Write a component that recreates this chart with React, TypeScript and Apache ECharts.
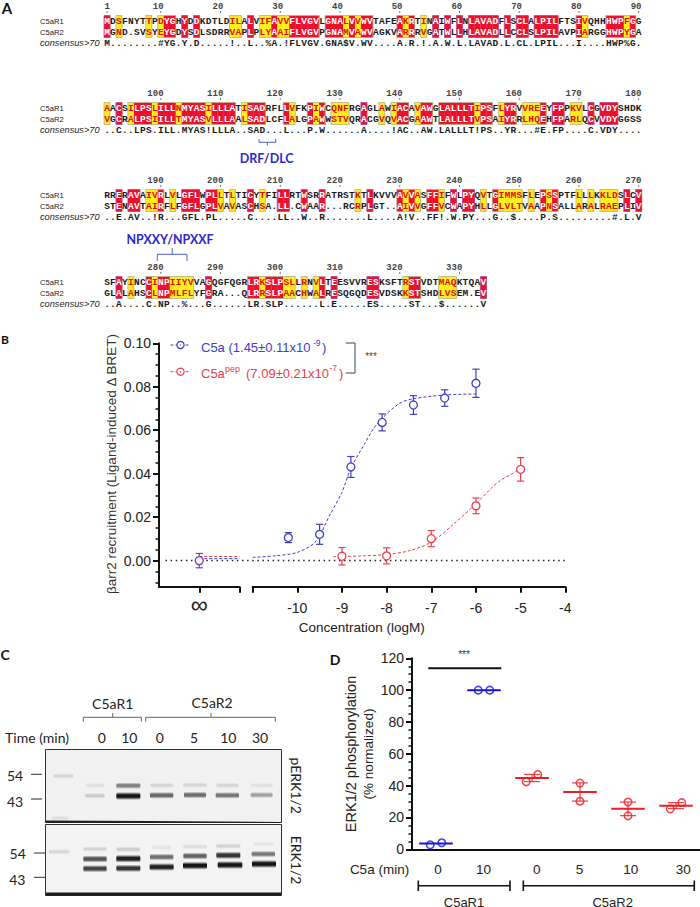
import React, { useEffect, useRef } from "react";
import * as echarts from "echarts";

// ---------- Panel A: alignment ----------
const r1Rows = [
  "MDSFNYTTPDYGHYDDKDTLDILALVIFAVVFLVGVLGNALVVWVTAFEAKRTINAIWFLNLAVADFLSCLALPILFTSIVQHHHWPFGG",
  "AACSILPSLILLNMYASILLLATISADRFLLVFKPIWCQNFRGAGLAWIACAVAWGLALLLTIPSFLYRVVREEYFPPKVLCGVDYSHDK",
  "RRERAVAIVRLVLGFLWPLLTLTICYTFILLRTWSRRATRSTKTLKVVVAVVASFFIFWLPYQVTGIMMSFLEPSSPTFLLLKKLDSLCV",
  "SFAYINCCINPIIYVVAGQGFQGRLRKSLPSLLRNVLTEESVVRESKSFTRSTVDTMAQKTQAV",
];
const r2Rows = [
  "MGND.SVSYEYGDYSDLSDRRVAPLPLYAAIFLVGVPGNAMVAWVAGKVARRRVGATWLLHLAVADLLCCLSLPILAVPIARGGHWPYGA",
  "VGCRALPSIILLTMYASVLLLAALSADLCFLALGPAWWSTVQRACGVQVACGAAWTLALLLTVPSAIYRRLHQEHFPARLQCVVDYGGSS",
  "STENAVTAIRFLFGFLGPLVAVASCHSA.LL.CWAAR...RCRPLGT..AIVVGFFVCWAPYHLLGLVLTVAAPNSALLARALRAEPLIV",
  "GLALAHSCLNPMLFLYFGRA...QLRRSLPAACHWALRESQGQDESVDSKKSTSHDLVSEM.EV",
];
const consensusRows = [
  "M........#YG.Y.D.....!..L..%A.!FLVGV.GNA$V.WV....A.R.!.A.W.L.LAVAD.L.CL.LPIL...I....HWP%G.",
  "..C..LPS.ILL.MYAS!LLLA..SAD...L...P.W......A....!AC..AW.LALLLT!PS..YR...#E.FP....C.VDY....",
  "..E.AV..!R...GFL.PL.....C....LL..W..R.......L....A!V..FF!.W.PY...G..$....P.S.........#.L.V",
  "..A....C.NP..%...G......LR.SLP......L.E.....ES.....ST...$......V",
];
const similarColumns = [
  [3, 8, 10, 22, 23, 27, 28, 30, 31, 41, 43, 51, 54, 81, 88],
  [1, 5, 9, 13, 18, 24, 32, 36, 39, 40, 41, 47, 49, 53, 63, 67, 71, 72, 73, 79, 80],
  [8, 9, 12, 20, 22, 27, 43, 51, 53, 57, 64, 67, 68, 69, 70, 72, 75, 80, 82, 84, 85, 86],
  [5, 9, 12, 13, 14, 15, 27, 31, 32, 34, 36, 51, 57, 58, 59],
];
const numberRows = [
  [1, 10, 20, 30, 40, 50, 60, 70, 80, 90],
  [100, 110, 120, 130, 140, 150, 160, 170, 180],
  [190, 200, 210, 220, 230, 240, 250, 260, 270],
  [280, 290, 300, 310, 320, 330],
];
const blockRowTop = [21, 108, 195, 282];

// ---------- Panel B: dose response ----------
const c5aPoints = [[-10.2, 0.0106], [-9.5, 0.0121], [-8.8, 0.0431], [-8.1, 0.0636], [-7.4, 0.0716], [-6.7, 0.0748], [-6, 0.0816]];
const c5aErrors = [0.0023, 0.0046, 0.0048, 0.0039, 0.0043, 0.0038, 0.0065];
const c5aCurve = [[-11, 0.0015], [-10.5, 0.0022], [-10, 0.0038], [-9.6, 0.0085], [-9.27, 0.021], [-9, 0.0315], [-8.8, 0.0425], [-8.5, 0.0535], [-8.3, 0.0605], [-8.1, 0.0655], [-7.7, 0.0725], [-7.4, 0.0745], [-6.7, 0.0762], [-6, 0.0767]];
const pepPoints = [[-9, 0.002], [-8, 0.0022], [-7, 0.0101], [-6, 0.0252], [-5, 0.042]];
const pepErrors = [0.004, 0.0037, 0.0037, 0.0036, 0.0054];
const pepCurve = [[-9.2, 0.0018], [-9, 0.0019], [-8.5, 0.0022], [-8, 0.0028], [-7.5, 0.0045], [-7, 0.0085], [-6.5, 0.0168], [-6, 0.0262], [-5.5, 0.0362], [-5, 0.042]];
const zeroDosePoint = [[1, 0]];
const zeroDoseError = 0.0033;
const zeroDoseBlue = [[1, 0.0009], [2, 0.0009]];
const zeroDoseRed = [[1, 0.0019], [2, 0.0019]];
const bMajorTicks = [0, 0.02, 0.04, 0.06, 0.08, 0.1];
const bMinorTicks = [-0.01, -0.005, 0.005, 0.01, 0.015, 0.025, 0.03, 0.035, 0.045, 0.05, 0.055, 0.065, 0.07, 0.075, 0.085, 0.09, 0.095];
const bLogTicks = [-11, -10, -9, -8, -7, -6, -5, -4];
const bLogLabels = [-10, -9, -8, -7, -6, -5, -4];

// ---------- Panel C: blot (x, y in blot units, width, darkness) ----------
const upperBands = [
  [190, 408, 60, 0.12], [285, 436, 55, 0.07], [285, 467, 58, 0.17], [385, 437, 72, 0.5], [385, 468, 72, 1],
  [485, 436, 68, 0.12], [485, 466, 70, 0.62], [585, 435, 70, 0.12], [585, 465, 66, 0.6], [682, 436, 66, 0.12],
  [682, 466, 70, 0.55], [785, 436, 66, 0.07], [785, 465, 66, 0.36], [180, 535, 50, 0.08],
];
const lowerBands = [
  [178, 635, 62, 0.12], [285, 627, 70, 0.14], [285, 657, 70, 0.72], [285, 686, 70, 0.78],
  [385, 628, 70, 0.17], [385, 656, 72, 0.95], [385, 685, 72, 0.85], [485, 622, 55, 0.07], [485, 651, 70, 0.6],
  [485, 681, 72, 0.95], [585, 620, 70, 0.09], [585, 648, 70, 0.66], [585, 677, 72, 1], [685, 618, 72, 0.14],
  [685, 646, 72, 0.85], [690, 675, 74, 1], [790, 612, 60, 0.06], [790, 642, 70, 0.55], [792, 672, 72, 1],
];

// ---------- Panel D: ERK phosphorylation ----------
const dTimeLabels = ["0", "10", "0", "5", "10", "30"];
const dLabelPositions = [0.04, 0.99, 2.1, 2.99, 4.06, 5.15];
const dBlueDots = [[-0.12, 2.8], [0.12, 4.1], [0.88, 100], [1.12, 100]];
const dRedDots = [[1.88, 42.4], [2.12, 47], [3, 41.6], [3, 30.2], [4, 29.7], [4, 21], [4.88, 25.4], [5.12, 29.3]];
const dBlueMeans = [[0, 3.7], [1, 100]];
const dRedMeans = [[2, 44.8], [3, 36], [4, 25.4], [5, 27.4]];
const dRedErrors = [2.3, 5.7, 4.3, 1.9];
const dMajorTicks = [0, 20, 40, 60, 80, 100, 120];
const dMinorTicks = [5, 10, 15, 25, 30, 35, 45, 50, 55, 65, 70, 75, 85, 90, 95, 105, 110, 115];

const SANS = '"Liberation Sans", Arial, sans-serif';
const LATO = "Lato, sans-serif";
const MONO = '"Liberation Mono", monospace';
const BLUE = "#3d40c6";
const RED = "#e8404c";
const PURPLE = "#7d3fb5";
const DBLUE = "#1515d8";
const DRED = "#ee1c25";
const BRACKET = "#4d63c4";

function residueKind(block: number, column: number) {
  const c = consensusRows[block][column - 1];
  if (similarColumns[block].includes(column)) return "Y";
  if (c && /[A-Z]/.test(c)) return "R";
  return ".";
}

function buildCells() {
  const cells: any[] = [];
  const runs: any[] = [];
  const letters: any[] = [];
  r1Rows.forEach((row, b) => {
    let start = 0;
    let hasY = false;
    for (let col = 1; col <= row.length + 1; col++) {
      const kind = col <= row.length ? residueKind(b, col) : ".";
      if (kind !== ".") {
        cells.push([col, blockRowTop[b], kind === "R" ? 1 : 0]);
        if (!start) start = col;
        if (kind === "Y") hasY = true;
      } else if (start) {
        runs.push([start, col - 1, blockRowTop[b], hasY ? 1 : 0]);
        start = 0;
        hasY = false;
      }
      if (col <= row.length) {
        const k = kind === "R" ? "#fff" : kind === "Y" ? "#e01010" : "#1a1a1a";
        letters.push([col, blockRowTop[b], row[col - 1], k]);
        letters.push([col, blockRowTop[b] + 11, r2Rows[b][col - 1], k]);
        letters.push([col, blockRowTop[b] + 22, consensusRows[b][col - 1], "#1a1a1a"]);
      }
    }
  });
  return { cells, runs, letters };
}

function errorBars(color: string, cap: number, lw: number) {
  return (params: any, api: any) => {
    const x = api.value(0);
    const lo = api.coord([x, api.value(1)]);
    const hi = api.coord([x, api.value(2)]);
    const st = { stroke: color, lineWidth: lw };
    return {
      type: "group",
      children: [
        { type: "line", shape: { x1: lo[0], y1: lo[1], x2: hi[0], y2: hi[1] }, style: st },
        { type: "line", shape: { x1: lo[0] - cap, y1: lo[1], x2: lo[0] + cap, y2: lo[1] }, style: st },
        { type: "line", shape: { x1: hi[0] - cap, y1: hi[1], x2: hi[0] + cap, y2: hi[1] }, style: st },
      ],
    };
  };
}

function meanLines(color: string, halfUnits: number) {
  return (params: any, api: any) => {
    const a = api.coord([api.value(0) - halfUnits, api.value(1)]);
    const b = api.coord([api.value(0) + halfUnits, api.value(1)]);
    return { type: "line", shape: { x1: a[0], y1: a[1], x2: b[0], y2: b[1] }, style: { stroke: color, lineWidth: 2 } };
  };
}

function bandRender(params: any, api: any) {
  const c = api.coord([api.value(0), api.value(1)]);
  const w = api.size([api.value(2), 0])[0];
  const dark = api.value(3);
  const h = 5 + dark * 3;
  const a = Math.min(1, dark * 0.95);
  return {
    type: "rect",
    shape: { x: c[0] - w / 2, y: c[1] - h / 2, width: w, height: h, r: 2 },
    style: {
      fill: {
        type: "linear", x: 0, y: 0, x2: 0, y2: 1,
        colorStops: [
          { offset: 0, color: "rgba(10,10,10,0)" },
          { offset: 0.35, color: `rgba(10,10,10,${a})` },
          { offset: 0.65, color: `rgba(10,10,10,${a})` },
          { offset: 1, color: "rgba(10,10,10,0)" },
        ],
      },
    },
  };
}

function t(text: string, x: number, y: number, opts: any = {}) {
  return {
    type: "text",
    x,
    y,
    rotation: opts.rotation || 0,
    z: 20,
    silent: true,
    style: {
      text,
      fill: opts.fill || "#222",
      font: opts.font || `13px ${SANS}`,
      align: opts.align || "center",
      verticalAlign: "middle",
    },
  };
}

function poly(points: number[][], stroke: string, lineWidth = 1, extra: any = {}) {
  return { type: "polyline", z: 20, silent: true, shape: { points }, style: { stroke, lineWidth, fill: "none", ...extra } };
}

function buildOption() {
  const { cells, runs, letters } = buildCells();
  const numbers: any[] = [];
  numberRows.forEach((list, b) =>
    list.forEach((n, i) => {
      const col = n === 1 ? 1 : b === 0 ? n : (i + 1) * 10;
      numbers.push([col, blockRowTop[b] - 14, n]);
    })
  );

  const hidden = { type: "value", show: false };
  const bBase = { min: -0.012, max: 0.1 };

  const graphicEls: any[] = [
    // panel letters
    t("A", 7, 8, { font: `bold 15px ${LATO}`, fill: "#111" }),
    t("B", 5, 339, { font: `bold 12px ${LATO}`, fill: "#111" }),
    t("C", 5, 654, { font: `bold 14px ${LATO}`, fill: "#111" }),
    t("D", 335, 659, { font: `bold 14px ${LATO}`, fill: "#111" }),
    // alignment row labels
    ...blockRowTop.flatMap((y) => [
      t("C5aR1", 40, y, { align: "left", font: `7.6px ${SANS}` }),
      t("C5aR2", 40, y + 11, { align: "left", font: `7.6px ${SANS}` }),
      t("consensus>70", 40, y + 22, { align: "left", font: `italic 9.2px ${SANS}` }),
    ]),
    t("DRF/DLC", 266.7, 158.5, { font: `bold 12.5px ${LATO}`, fill: "#2a2ad0" }),
    poly([[259, 139], [259, 142.3], [275.7, 142.3], [275.7, 139]], BRACKET),
    poly([[267.3, 142.3], [267.3, 145.5]], BRACKET),
    t("NPXXY/NPXXF", 170, 239, { font: `bold 12.4px ${LATO}`, fill: "#2a2ad0" }),
    poly([[157.3, 261], [157.3, 254.3], [187, 254.3], [187, 261]], BRACKET),
    poly([[172.2, 254.3], [172.2, 248]], BRACKET),

    // panel B texts
    t("βarr2 recruitment (Ligand-induced Δ BRET)", 111, 464, { rotation: Math.PI / 2, font: `13.5px ${SANS}`, fill: "#333" }),
    t("Concentration (logM)", 361.7, 627, { font: `13.5px ${SANS}`, fill: "#222" }),
    poly([[170.5, 345], [190.5, 345]], BLUE, 1, { lineDash: [3, 2] }),
    { type: "circle", z: 20, shape: { cx: 180.5, cy: 345, r: 3.6 }, style: { stroke: BLUE, fill: "#fff", lineWidth: 1.2 } },
    { type: "circle", z: 21, shape: { cx: 180.5, cy: 345, r: 0.6 }, style: { fill: BLUE } },
    poly([[170.5, 371.7], [190.5, 371.7]], RED, 1, { lineDash: [3, 2] }),
    { type: "circle", z: 20, shape: { cx: 180.5, cy: 371.7, r: 3.6 }, style: { stroke: RED, fill: "#fff", lineWidth: 1.2 } },
    { type: "circle", z: 21, shape: { cx: 180.5, cy: 371.7, r: 0.6 }, style: { fill: RED } },
    t("C5a (1.45±0.11x10", 201, 347, { align: "left", font: `13px ${SANS}`, fill: BLUE }),
    t("-9", 313, 343, { align: "left", font: `8.5px ${SANS}`, fill: BLUE }),
    t(")", 322, 347, { align: "left", font: `13px ${SANS}`, fill: BLUE }),
    t("C5a", 201, 373, { align: "left", font: `13px ${SANS}`, fill: RED }),
    t("pep", 225, 369, { align: "left", font: `9px ${SANS}`, fill: RED }),
    t("(7.09±0.21x10", 246, 373, { align: "left", font: `13px ${SANS}`, fill: RED }),
    t("-7", 329.5, 368, { align: "left", font: `8.5px ${SANS}`, fill: RED }),
    t(")", 339, 373, { align: "left", font: `13px ${SANS}`, fill: RED }),
    poly([[345.7, 343], [355, 343], [355, 373], [345.7, 373]], "#444", 1),
    t("***", 371, 356, { font: `10px ${SANS}`, fill: "#444" }),

    // panel C frame
    { type: "rect", z: 1, shape: { x: 45.5, y: 749.5, width: 236, height: 73 }, style: { fill: "#f1f1f1", stroke: "#333", lineWidth: 1 } },
    { type: "rect", z: 1, shape: { x: 45.5, y: 824.5, width: 236, height: 71 }, style: { fill: "#f3f3f3", stroke: "#333", lineWidth: 1 } },
    { type: "polygon", z: 3, shape: { points: [[46, 820.5], [150, 821], [281, 822], [281, 823], [46, 823]] }, style: { fill: "#222" } },
    { type: "rect", z: 3, shape: { x: 46, y: 892.5, width: 235, height: 3.2 }, style: { fill: "#1d1d1d" } },
    t("C5aR1", 112.7, 703, { font: `14px ${LATO}`, fill: "#222" }),
    t("C5aR2", 212, 702, { font: `14px ${LATO}`, fill: "#222" }),
    poly([[83.3, 721.7], [83.3, 717.3], [141.3, 717.3], [141.3, 721.7]], "#666"),
    poly([[112.7, 717.3], [112.7, 713]], "#666"),
    poly([[145.7, 721.7], [145.7, 717.3], [275.3, 717.3], [275.3, 721.7]], "#666"),
    poly([[211, 717.3], [211, 713]], "#666"),
    t("Time (min)", 37, 737, { font: `14px ${LATO}`, fill: "#222" }),
    t("0", 101.7, 737, { font: `14px ${LATO}` }),
    t("10", 129.3, 737, { font: `14px ${LATO}` }),
    t("0", 159.7, 737, { font: `14px ${LATO}` }),
    t("5", 194, 737, { font: `14px ${LATO}` }),
    t("10", 228.3, 737, { font: `14px ${LATO}` }),
    t("30", 260, 737, { font: `14px ${LATO}` }),
    t("54", 15, 775, { font: `14px ${LATO}` }),
    t("43", 15, 801, { font: `14px ${LATO}` }),
    t("54", 17.7, 853, { font: `14px ${LATO}` }),
    t("43", 17.3, 879, { font: `14px ${LATO}` }),
    poly([[31, 774.3], [42, 774.3]], "#333"),
    poly([[31, 799], [42, 799]], "#777", 1.6),
    poly([[34, 853], [45, 853]], "#333"),
    poly([[34, 877.3], [45, 877.3]], "#333"),
    t("pERK1/2", 296, 785.7, { rotation: -Math.PI / 2, font: `14px ${LATO}` }),
    t("ERK1/2", 296, 860, { rotation: -Math.PI / 2, font: `14px ${LATO}` }),

    // panel D texts
    t("ERK1/2 phosphorylation", 351, 754, { rotation: Math.PI / 2, font: `14.5px ${SANS}`, fill: "#222" }),
    t("(% normalized)", 368, 754, { rotation: Math.PI / 2, font: `13.5px ${SANS}`, fill: "#222" }),
    t("C5a (min)", 379.5, 869, { font: `13.5px ${SANS}` }),
    t("***", 464, 654.5, { font: `10px ${SANS}`, fill: "#333" }),
    poly([[418.3, 885.7], [510, 885.7]], "#111", 1.6),
    poly([[418.3, 880.5], [418.3, 891]], "#111", 1.6),
    poly([[510, 880.5], [510, 891]], "#111", 1.6),
    poly([[523.3, 885.7], [694.3, 885.7]], "#111", 1.6),
    poly([[523.3, 880.5], [523.3, 891]], "#111", 1.6),
    poly([[694.3, 880.5], [694.3, 891]], "#111", 1.6),
    t("C5aR1", 464, 902, { font: `13px ${SANS}` }),
    t("C5aR2", 612.7, 902, { font: `13px ${SANS}` }),
  ];

  const grid = [
    { left: 104.0, top: 0, width: 537.7, height: 320 },
    { left: 159, top: 343.3, width: 80.5, height: 243.4 },
    { left: 252.6, top: 343.3, width: 312.7, height: 243.4 },
    { left: 159, top: 343.3, width: 406.3, height: 243.4 },
    { left: 45.33, top: 749.33, width: 236.33, height: 146.33 },
    { left: 412, top: 658.3, width: 288, height: 191 },
  ];

  const axisLine = { show: true, onZero: false, lineStyle: { color: "#111", width: 2 } };
  const xAxis: any[] = [
    { ...hidden, gridIndex: 0, min: 0.5, max: 90.5 },
    {
      type: "value", gridIndex: 1, min: 0, max: 2, axisLine, splitLine: { show: false },
      axisTick: { show: true, length: 6, customValues: [1, 2], lineStyle: { color: "#111", width: 2 } },
      axisLabel: { customValues: [1], formatter: () => "∞", margin: 6, fontSize: 24, color: "#222", fontFamily: SANS },
    },
    {
      type: "value", gridIndex: 2, min: -11, max: -4, axisLine, splitLine: { show: false },
      axisTick: { show: true, length: 6, customValues: bLogTicks, lineStyle: { color: "#111", width: 2 } },
      axisLabel: { customValues: bLogLabels, margin: 14, fontSize: 14, color: "#222", fontFamily: SANS, formatter: (v: number) => String(v) },
    },
    { ...hidden, gridIndex: 3, min: 0, max: 1 },
    { ...hidden, gridIndex: 4, min: 136, max: 845 },
    {
      type: "value", gridIndex: 5, min: -0.5, max: 5.5, axisLine,
      splitLine: { show: false }, axisTick: { show: false },
      axisLabel: {
        customValues: dLabelPositions, margin: 13, fontSize: 13.5, color: "#222", fontFamily: SANS,
        formatter: (v: number) => dTimeLabels[dLabelPositions.indexOf(v)],
      },
    },
  ];
  const yAxis: any[] = [
    { ...hidden, gridIndex: 0, min: 0, max: 320, inverse: true },
    {
      type: "value", gridIndex: 1, ...bBase, position: "left", axisLine, splitLine: { show: false },
      axisTick: { show: true, length: 6, customValues: bMajorTicks, lineStyle: { color: "#111", width: 2 } },
      axisLabel: { customValues: bMajorTicks, margin: 8, fontSize: 14, color: "#222", fontFamily: SANS, formatter: (v: number) => v.toFixed(2) },
    },
    {
      type: "value", gridIndex: 1, ...bBase, position: "left", axisLine: { show: false, onZero: false }, splitLine: { show: false },
      axisTick: { show: true, length: 3.5, customValues: bMinorTicks, lineStyle: { color: "#111", width: 1.5 } },
      axisLabel: { show: false },
    },
    { ...hidden, gridIndex: 2, ...bBase },
    { ...hidden, gridIndex: 3, ...bBase },
    { ...hidden, gridIndex: 4, min: 328, max: 767, inverse: true },
    {
      type: "value", gridIndex: 5, min: 0, max: 120, position: "left", axisLine, splitLine: { show: false },
      axisTick: { show: true, length: 6, customValues: dMajorTicks, lineStyle: { color: "#111", width: 2 } },
      axisLabel: { customValues: dMajorTicks, margin: 8, fontSize: 14, color: "#222", fontFamily: SANS, formatter: (v: number) => String(v) },
    },
    {
      type: "value", gridIndex: 5, min: 0, max: 120, position: "left", axisLine: { show: false, onZero: false }, splitLine: { show: false },
      axisTick: { show: true, length: 3.5, customValues: dMinorTicks, lineStyle: { color: "#111", width: 1.5 } },
      axisLabel: { show: false },
    },
  ];

  const dashed = (color: string) => ({ color, width: 1, type: [3, 2] as any });
  const markerStyle = (color: string) => ({ color: "#fff", borderColor: color, borderWidth: 1.3, opacity: 1 });
  const series: any[] = [
    // alignment
    {
      type: "custom", xAxisIndex: 0, yAxisIndex: 0, silent: true, z: 2, data: cells,
      renderItem: (p: any, api: any) => {
        const a = api.coord([api.value(0) - 0.5, api.value(1) - 5.5]);
        const s = api.size([1, 22]);
        return { type: "rect", shape: { x: a[0], y: a[1], width: s[0] + 0.3, height: s[1] }, style: { fill: api.value(2) ? "#ee0f2c" : "#ffee1a" } };
      },
    },
    {
      type: "custom", xAxisIndex: 0, yAxisIndex: 0, silent: true, z: 3, data: runs,
      renderItem: (p: any, api: any) => {
        const a = api.coord([api.value(0) - 0.5, api.value(2) - 5.5]);
        const b = api.coord([api.value(1) + 0.5, api.value(2) + 16.5]);
        return {
          type: "rect",
          shape: { x: a[0], y: a[1], width: b[0] - a[0], height: b[1] - a[1] },
          style: { fill: "none", stroke: api.value(3) ? "#b8b088" : "#b04a90", lineWidth: 0.8 },
        };
      },
    },
    {
      type: "custom", xAxisIndex: 0, yAxisIndex: 0, silent: true, z: 4, data: letters,
      renderItem: (p: any, api: any) => {
        const c = api.coord([api.value(0), api.value(1)]);
        const d = letters[p.dataIndex];
        return {
          type: "text", x: c[0], y: c[1],
          style: { text: d[2], fill: d[3], font: `bold 9.5px ${MONO}`, align: "center", verticalAlign: "middle" },
        };
      },
    },
    {
      type: "custom", xAxisIndex: 0, yAxisIndex: 0, silent: true, z: 4, data: numbers,
      renderItem: (p: any, api: any) => {
        const c = api.coord([api.value(0), api.value(1)]);
        return {
          type: "group",
          children: [
            { type: "text", x: c[0] + 2.8, y: c[1], style: { text: String(api.value(2)), fill: "#444", font: `bold 9px ${MONO}`, align: "right", verticalAlign: "middle" } },
            { type: "line", shape: { x1: c[0], y1: c[1] + 4, x2: c[0], y2: c[1] + 6 }, style: { stroke: "#555", lineWidth: 0.8 } },
          ],
        };
      },
    },

    // panel B
    {
      type: "line", xAxisIndex: 3, yAxisIndex: 4, data: [[0.016, 0], [1, 0]], showSymbol: false, silent: true, z: 2,
      lineStyle: { color: "#222", width: 1.5, type: [1.5, 3.6] },
    },
    { type: "line", xAxisIndex: 1, yAxisIndex: 1, data: zeroDoseBlue, showSymbol: false, silent: true, lineStyle: dashed(BLUE), z: 3 },
    { type: "line", xAxisIndex: 1, yAxisIndex: 1, data: zeroDoseRed, showSymbol: false, silent: true, lineStyle: dashed(RED), z: 3 },
    { type: "line", xAxisIndex: 2, yAxisIndex: 3, data: c5aCurve, smooth: 0.3, showSymbol: false, silent: true, lineStyle: dashed(BLUE), z: 3 },
    { type: "line", xAxisIndex: 2, yAxisIndex: 3, data: pepCurve, smooth: 0.3, showSymbol: false, silent: true, lineStyle: dashed(RED), z: 3 },
    {
      type: "custom", xAxisIndex: 2, yAxisIndex: 3, silent: true, z: 4, renderItem: errorBars(BLUE, 3.6, 1.2),
      data: c5aPoints.map((p, i) => [p[0], p[1] - c5aErrors[i], p[1] + c5aErrors[i]]),
    },
    {
      type: "custom", xAxisIndex: 2, yAxisIndex: 3, silent: true, z: 4, renderItem: errorBars(RED, 3.6, 1.2),
      data: pepPoints.map((p, i) => [p[0], p[1] - pepErrors[i], p[1] + pepErrors[i]]),
    },
    {
      type: "custom", xAxisIndex: 1, yAxisIndex: 1, silent: true, z: 4, renderItem: errorBars(PURPLE, 3.6, 1.2),
      data: zeroDosePoint.map((p) => [p[0], p[1] - zeroDoseError, p[1] + zeroDoseError]),
    },
    { type: "scatter", xAxisIndex: 2, yAxisIndex: 3, data: c5aPoints, symbolSize: 8, itemStyle: markerStyle(BLUE), silent: true, z: 5 },
    { type: "scatter", xAxisIndex: 2, yAxisIndex: 3, data: pepPoints, symbolSize: 8, itemStyle: markerStyle(RED), silent: true, z: 5 },
    { type: "scatter", xAxisIndex: 1, yAxisIndex: 1, data: zeroDosePoint, symbolSize: 8, itemStyle: markerStyle(PURPLE), silent: true, z: 5 },

    // panel C
    { type: "custom", xAxisIndex: 4, yAxisIndex: 5, silent: true, z: 2, data: upperBands, renderItem: bandRender },
    { type: "custom", xAxisIndex: 4, yAxisIndex: 5, silent: true, z: 2, data: lowerBands, renderItem: bandRender },

    // panel D
    {
      type: "line", xAxisIndex: 5, yAxisIndex: 6, data: [[-0.16, 113.8], [1.36, 113.8]], showSymbol: false, silent: true,
      lineStyle: { color: "#111", width: 2 }, z: 3,
    },
    {
      type: "custom", xAxisIndex: 5, yAxisIndex: 6, silent: true, z: 3, renderItem: errorBars(DRED, 8, 1),
      data: dRedMeans.map((p, i) => [p[0], p[1] - dRedErrors[i], p[1] + dRedErrors[i]]),
    },
    { type: "custom", xAxisIndex: 5, yAxisIndex: 6, silent: true, z: 4, data: dBlueMeans, renderItem: meanLines(DBLUE, 0.35) },
    { type: "custom", xAxisIndex: 5, yAxisIndex: 6, silent: true, z: 4, data: dRedMeans, renderItem: meanLines(DRED, 0.35) },
    {
      type: "scatter", xAxisIndex: 5, yAxisIndex: 6, data: dBlueDots, symbolSize: 7.5, silent: true, z: 5, clip: false,
      itemStyle: { color: "transparent", borderColor: DBLUE, borderWidth: 1.6 },
    },
    {
      type: "scatter", xAxisIndex: 5, yAxisIndex: 6, data: dRedDots, symbolSize: 7.5, silent: true, z: 5, clip: false,
      itemStyle: { color: "transparent", borderColor: DRED, borderWidth: 1.6 },
    },
  ];

  return { animation: false, backgroundColor: "#fff", grid, xAxis, yAxis, series, graphic: { elements: graphicEls } };
}

export default function App() {
  const ref = useRef<HTMLDivElement>(null);
  useEffect(() => {
    document.body.style.margin = "0";
    const chart = echarts.init(ref.current!, undefined, { renderer: "svg" });
    chart.setOption(buildOption() as any);
    return () => chart.dispose();
  }, []);
  return <div ref={ref} style={{ width: 700, height: 907 }} />;
}
